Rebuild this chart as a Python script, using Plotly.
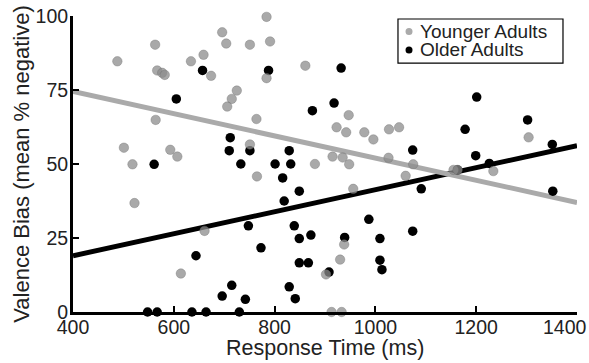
import plotly.graph_objects as go

# Younger adults: response time (ms), valence bias (% negative)
young_rt = [488, 563, 567, 577, 582, 634, 659, 674, 696, 704, 751, 784, 791, 784, 861,
            725, 715, 706, 764, 751, 765, 880, 915, 935, 948, 947, 923, 942, 978, 996,
            956, 661, 614, 938, 930, 902, 913, 933, 564, 501, 518, 593, 607, 522, 1027,
            1047, 1026, 1075, 1060, 1304, 1155, 1163, 1234]
young_bias = [84.7, 90.3, 81.6, 80.8, 80.1, 84.7, 86.9, 79.8, 94.5, 90.7, 90.3, 99.7, 91.4, 79.0, 83.2,
              74.8, 72.0, 69.4, 65.2, 56.6, 45.8, 50.0, 52.5, 52.2, 49.9, 66.5, 62.4, 60.7, 60.7, 58.3,
              41.6, 27.4, 13.0, 22.8, 17.7, 12.7, 0, 0, 64.9, 55.5, 49.9, 54.8, 52.5, 36.8, 61.7,
              62.4, 52.1, 49.9, 46.0, 59.0, 48.0, 48.0, 47.6]

# Older adults
old_rt = [605, 561, 644, 548, 567, 636, 664, 730, 657, 788, 932, 918, 875, 712, 710,
          751, 733, 801, 832, 829, 816, 849, 819, 748, 839, 849, 872, 939, 773, 849,
          867, 987, 1009, 1009, 1013, 908, 715, 696, 742, 829, 841, 1201, 1302, 1178, 1074,
          1351, 1199, 1226, 1163, 1091, 1352, 1074]
old_bias = [72.0, 49.9, 19.0, 0, 0, 0, 0, 0, 81.6, 81.6, 82.4, 70.6, 68.0, 58.9, 54.5,
            54.5, 50.0, 50.0, 50.0, 54.5, 45.3, 40.8, 37.5, 29.1, 29.1, 24.8, 26.0, 25.2, 21.7, 16.6,
            16.6, 31.3, 24.8, 17.5, 14.3, 13.5, 9.0, 5.4, 4.3, 8.5, 4.5, 72.6, 64.9, 61.7, 54.7,
            56.6, 52.8, 50.2, 48.0, 41.6, 40.8, 27.3]

# Fitted regression lines (endpoints)
fit_x = [400, 1400]
young_fit = [74.5, 37.0]
old_fit = [19.0, 56.2]

x_ticks = [400, 600, 800, 1000, 1200, 1400]
x_labels = ["400", "600", "800", "1000", "1200", "1400"]
y_ticks = [0, 25, 50, 75, 100]

series_names = ["Younger Adults", "Older Adults"]
series_colors = ["#aaaaaa", "#000000"]

FONT = "Liberation Sans, Arial, Helvetica, sans-serif"
TXT = "#222222"

fig = go.Figure()
fig.add_trace(go.Scatter(x=fit_x, y=old_fit, mode="lines",
                         line=dict(color="black", width=5), showlegend=False, hoverinfo="skip"))
fig.add_trace(go.Scatter(x=fit_x, y=young_fit, mode="lines",
                         line=dict(color="#aaaaaa", width=5), showlegend=False, hoverinfo="skip"))
fig.add_trace(go.Scatter(x=old_rt, y=old_bias, mode="markers", name=series_names[1],
                         cliponaxis=False, showlegend=False,
                         marker=dict(color="black", size=9.5, line=dict(width=0))))
fig.add_trace(go.Scatter(x=young_rt, y=young_bias, mode="markers", name=series_names[0],
                         cliponaxis=False, showlegend=False,
                         marker=dict(color="rgba(140,140,140,0.75)", size=9.5,
                                     line=dict(color="rgba(110,110,110,0.6)", width=0.6))))

axis_common = dict(showline=True, linecolor="black", linewidth=3, ticks="inside",
                   ticklen=6, tickwidth=2, tickcolor="black", showgrid=False,
                   zeroline=False, tickfont=dict(family=FONT, size=19.5, color=TXT),
                   automargin=False)

# last x tick label is drawn as annotation (shifted to stay inside the figure)
x_ticktext = x_labels[:-1] + [""]

fig.update_layout(
    width=589, height=363,
    margin=dict(l=73, r=12, t=16, b=51),
    plot_bgcolor="white", paper_bgcolor="white",
    font=dict(family=FONT, size=20, color=TXT),
    xaxis=dict(range=[400, 1400], tickvals=x_ticks, ticktext=x_ticktext,
               ticklabelstandoff=-4, **axis_common),
    yaxis=dict(range=[0, 100], tickvals=y_ticks, ticklabelstandoff=-2,
               title=dict(text="Valence Bias (mean % negative)", font=dict(size=22), standoff=0),
               **axis_common),
    showlegend=False,
)

fig.add_annotation(x=x_ticks[-1], y=0, xref="x", yref="paper", text=x_labels[-1],
                   showarrow=False, xanchor="right", yanchor="top", xshift=12, yshift=-2,
                   font=dict(family=FONT, size=19.5, color=TXT))

# x-axis title
fig.add_annotation(x=0.5, y=-0.1225, xref="paper", yref="paper", text="Response Time (ms)",
                   showarrow=False, xanchor="center", yanchor="middle",
                   font=dict(family=FONT, size=21.5, color=TXT))

# Legend box (drawn manually to match compact layout)
lx0, lx1, ly0, ly1 = 0.6448, 0.9722, 0.841, 0.9899
fig.add_shape(type="rect", xref="paper", yref="paper", x0=lx0, x1=lx1, y0=ly0, y1=ly1,
              line=dict(color="black", width=1.2), fillcolor="white", layer="above")
row_y = [0.9480, 0.8855]
for name, col, ry in zip(series_names, series_colors, row_y):
    fig.add_shape(type="circle", xref="paper", yref="paper",
                  xsizemode="pixel", ysizemode="pixel", xanchor=0.6667, yanchor=ry,
                  x0=-3.5, x1=3.5, y0=-3.5, y1=3.5,
                  fillcolor=col, line=dict(width=0), layer="above")
    fig.add_annotation(x=0.6845, y=ry, xref="paper", yref="paper", text=name,
                       showarrow=False, xanchor="left", yanchor="middle",
                       font=dict(family=FONT, size=19, color=TXT))

fig.write_html("out.html", config={"displayModeBar": False},
               post_script="document.body.style.margin='0';document.body.style.padding='0';")
